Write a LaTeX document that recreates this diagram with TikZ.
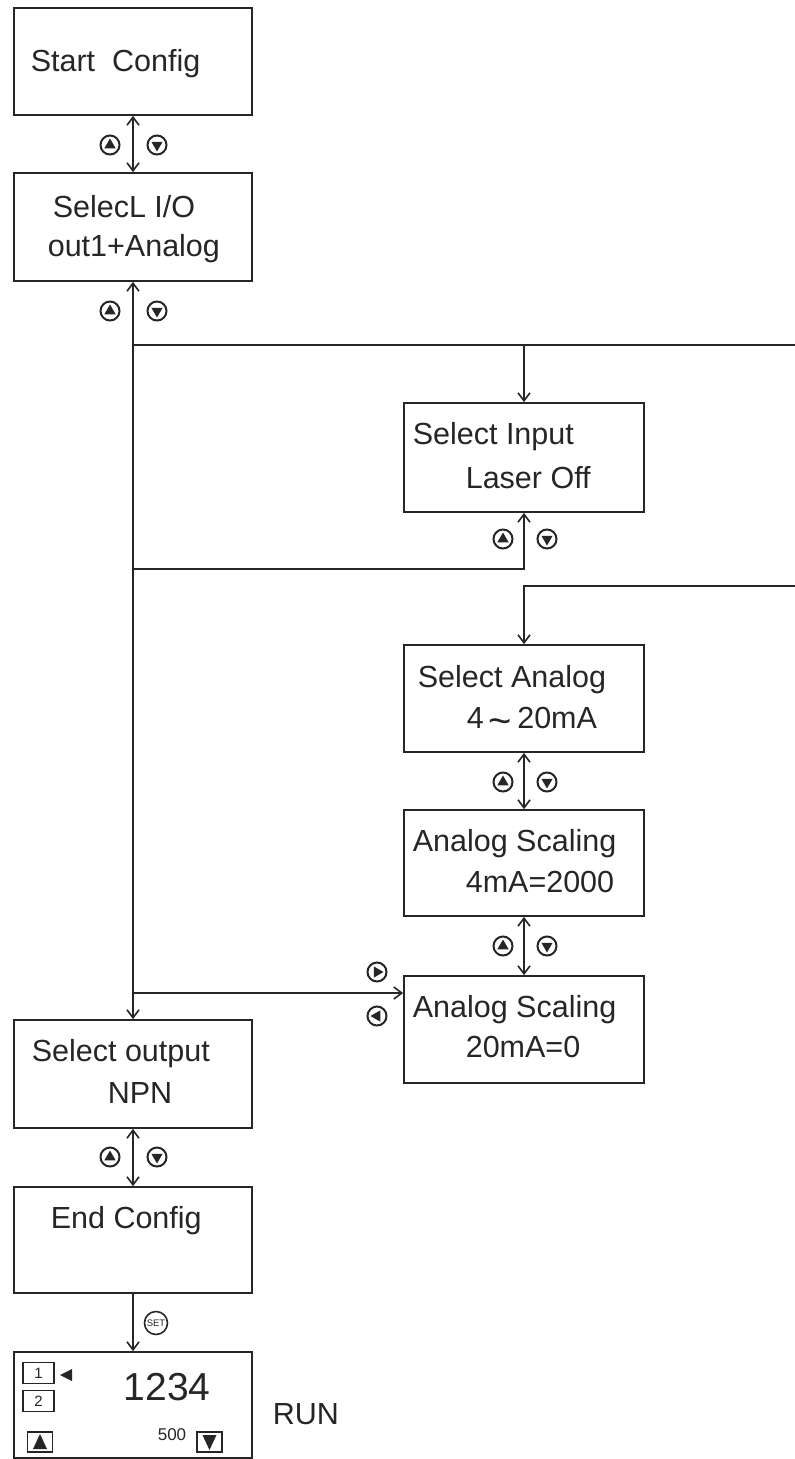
\documentclass[tikz,border=0pt]{standalone}
\usepackage{fontspec}
\setmainfont{Liberation Sans}
\usetikzlibrary{arrows.meta,calc}
\definecolor{ink}{HTML}{262626}
\begin{document}
\begin{tikzpicture}[x=1pt,y=-1pt,
  line width=1.6pt, draw=ink, color=ink,
  box/.style={draw=ink, rectangle, minimum width=238pt, minimum height=107pt, inner sep=0pt, line width=1.7pt},
  rbox/.style={box, minimum width=240pt},
  lbl/.style={anchor=base west, inner sep=0pt, text=ink, font=\fontsize{30.5}{36}\selectfont},
  arr/.style={draw=ink, line width=1.6pt, -{Straight Barb[length=8pt,width=12pt,line width=1.6pt]}},
  darr/.style={draw=ink, line width=1.6pt, {Straight Barb[length=8pt,width=12pt,line width=1.6pt]}-{Straight Barb[length=8pt,width=12pt,line width=1.6pt]}},
  plain/.style={draw=ink, line width=1.6pt},
  kbox/.style={draw=ink, rectangle, inner sep=0pt, line width=1.2pt, minimum width=31pt, minimum height=21pt, text=ink, font=\fontsize{15}{15}\selectfont},
  sbox/.style={draw=ink, rectangle, inner sep=0pt, line width=1.6pt, minimum width=25pt, minimum height=20pt},
  pics/bu/.style={code={\draw[ink, line width=2pt] (0,0) circle[radius=9.5pt]; \fill[ink] (90:6.5pt) -- (210:6.5pt) -- (330:6.5pt) -- cycle;}},
  pics/bd/.style={code={\draw[ink, line width=2pt] (0,0) circle[radius=9.5pt]; \fill[ink] (270:6.5pt) -- (30:6.5pt) -- (150:6.5pt) -- cycle;}},
  pics/br/.style={code={\draw[ink, line width=2pt] (0,0) circle[radius=9.5pt]; \fill[ink] (0:6.5pt) -- (120:6.5pt) -- (240:6.5pt) -- cycle;}},
  pics/bl/.style={code={\draw[ink, line width=2pt] (0,0) circle[radius=9.5pt]; \fill[ink] (180:6.5pt) -- (300:6.5pt) -- (60:6.5pt) -- cycle;}}
]
\useasboundingbox[fill=white] (0,0) rectangle (795,1459);

% left column boxes
\node[box] (start) at (133,61.5) {};
\node[box, minimum height=108pt] (sel) at (133,227) {};
\node[box, minimum height=108pt] (out) at (133,1074) {};
\node[box, minimum height=106pt] (end) at (133,1240) {};
\node[box, minimum height=106pt] (run) at (133,1405) {};

% right column boxes
\node[rbox, minimum height=109pt] (inp) at (524,457.5) {};
\node[rbox] (ana) at (524,698.5) {};
\node[rbox, minimum height=106pt] (sc4) at (524,863) {};
\node[rbox] (sc20) at (524,1029.5) {};

% labels
\node[lbl] (t1) at (30,71) {Start~~Config};
\node[lbl] (t2) at (52,217) {SelecL I/O};
\node[lbl] (t3) at (47,256) {out1+Analog};
\node[lbl] (t4) at (412,444) {Select Input};
\node[lbl] (t5) at (465,488) {Laser Off};
\node[lbl] (t6) at (417,687) {Select Analog};
\node[lbl] (t7) at (466,728) {4\,{\raisebox{-0.22em}{\fontsize{40}{40}\selectfont\textasciitilde}}\,20mA};
\node[lbl] (t8) at (412,851) {Analog Scaling};
\node[lbl] (t9) at (465,892) {4mA=2000};
\node[lbl] (t10) at (412,1017) {Analog Scaling};
\node[lbl] (t11) at (465,1057) {20mA=0};
\node[lbl] (t12) at (31,1061) {Select output};
\node[lbl] (t13) at (107,1103) {NPN};
\node[lbl] (t14) at (50,1228) {End Config};
\node[lbl] (t15) at (272,1424) {RUN};

% run display content
\node[lbl, font=\fontsize{39}{40}\selectfont] (num) at (123,1400) {1234};
\node[lbl, font=\fontsize{17}{18}\selectfont] (sv) at (157,1440) {500};
\node[kbox] (k1) at (38.5,1373) {1};
\node[kbox] (k2) at (38.5,1401) {2};
\fill[ink] (60,1375) -- (72,1369) -- (72,1381) -- cycle;
\node[sbox] (ub) at (40,1442) {};
\fill[ink] (40,1434) -- (47,1449) -- (33,1449) -- cycle;
\node[sbox] (db) at (209.5,1442) {};
\fill[ink] (209.5,1450) -- (202.5,1435) -- (216.5,1435) -- cycle;

% junction coordinates
\coordinate (j1) at (133,345);
\coordinate (r1) at (795,345);
\coordinate (j2) at (133,569);
\coordinate (r2) at (795,586);
\coordinate (j3) at (133,993);

% connectors
\draw[darr] (start.south) -- (sel.north);
\draw[darr] (sel.south) -- (out.north);
\draw[plain] (j1) -- (r1);
\draw[arr] (j1 -| inp.north) -- (inp.north);
\draw[arr] (j2) -| (inp.south);
\draw[arr] (r2) -| (ana.north);
\draw[darr] (ana.south) -- (sc4.north);
\draw[darr] (sc4.south) -- (sc20.north);
\draw[arr] (j3) -- (j3 -| sc20.west);
\draw[darr] (out.south) -- (end.north);
\draw[arr] (end.south) -- (run.north);

% buttons
\pic at (110,145) {bu}; \pic at (157,145) {bd};
\pic at (110,311) {bu}; \pic at (157,311) {bd};
\pic at (503,539) {bu}; \pic at (547,539) {bd};
\pic at (503,782) {bu}; \pic at (547,782) {bd};
\pic at (503,946) {bu}; \pic at (547,946) {bd};
\pic at (110,1157) {bu}; \pic at (157,1157) {bd};
\pic at (377,972) {br};
\pic at (377,1016) {bl};
\node[draw=ink, circle, line width=1.6pt, minimum size=23pt, inner sep=0pt, text=ink, font=\fontsize{9.5}{9.5}\selectfont] (set) at (156,1323) {SET};
\end{tikzpicture}
\end{document}
